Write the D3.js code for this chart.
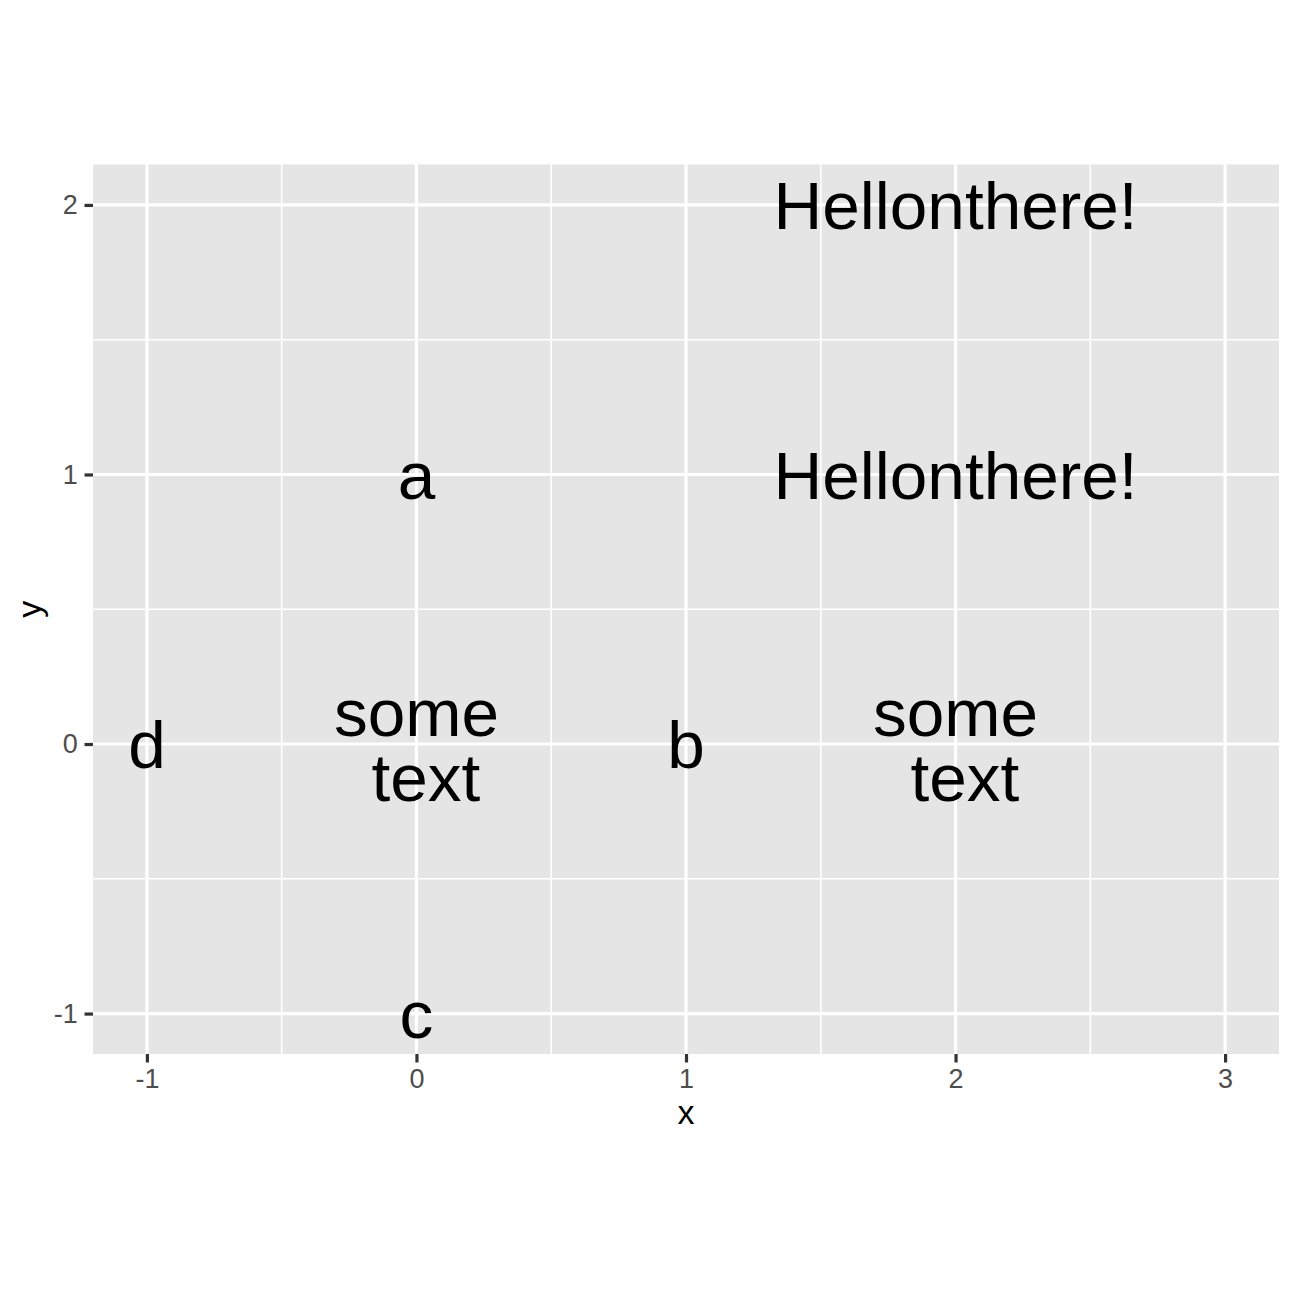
<!DOCTYPE html>
<html><head><meta charset="utf-8">
<script src="https://cdn.jsdelivr.net/npm/d3@7"></script>
<style>body{margin:0;background:#fff}svg{display:block}</style>
</head><body>
<script>
const labelX = [0, 1, 0, -1, 0, 2, 2, 2];
const labelY = [1, 0, -1, 0, 0, 0, 2, 1];
const labelText = ["a", "b", "c", "d", "some\n text", "some\n text", "Hellonthere!", "Hellonthere!"];
const xDomain = [-1.2, 3.2];
const yDomain = [-1.15, 2.15];
const xTicks = [-1, 0, 1, 2, 3];
const yTicks = [-1, 0, 1, 2];
const xMinor = [-0.5, 0.5, 1.5, 2.5];
const yMinor = [-0.5, 0.5, 1.5];

(function () {
const W = 1296, H = 1296;
const pLeft = 93, pWidth = 1186;
const unit = pWidth / (xDomain[1] - xDomain[0]);
const pHeight = unit * (yDomain[1] - yDomain[0]);
const pTop = 164.5;

const svg = d3.select("body").append("svg").attr("width", W).attr("height", H);
const x = d3.scaleLinear().domain(xDomain).range([pLeft, pLeft + pWidth]);
const y = d3.scaleLinear().domain(yDomain).range([pTop + pHeight, pTop]);

svg.append("rect").attr("x", pLeft).attr("y", pTop).attr("width", pWidth).attr("height", pHeight).attr("fill", "#E5E5E5");

const g = svg.append("g");
g.selectAll(".xmin").data(xMinor).join("line").attr("class", "xmin").attr("x1", d => x(d)).attr("x2", d => x(d))
  .attr("y1", pTop).attr("y2", pTop + pHeight).attr("stroke", "#fff").attr("stroke-width", 1.6);
g.selectAll(".ymin").data(yMinor).join("line").attr("class", "ymin").attr("y1", d => y(d)).attr("y2", d => y(d))
  .attr("x1", pLeft).attr("x2", pLeft + pWidth).attr("stroke", "#fff").attr("stroke-width", 1.6);
g.selectAll(".xmaj").data(xTicks).join("line").attr("class", "xmaj").attr("x1", d => x(d)).attr("x2", d => x(d))
  .attr("y1", pTop).attr("y2", pTop + pHeight).attr("stroke", "#fff").attr("stroke-width", 3.2);
g.selectAll(".ymaj").data(yTicks).join("line").attr("class", "ymaj").attr("y1", d => y(d)).attr("y2", d => y(d))
  .attr("x1", pLeft).attr("x2", pLeft + pWidth).attr("stroke", "#fff").attr("stroke-width", 3.2);

const fmt = d => d < 0 ? "-" + Math.abs(d) : String(d);
const xAxis = d3.axisBottom(x).tickValues(xTicks).tickSize(8.5).tickPadding(6.8).tickFormat(fmt);
const yAxis = d3.axisLeft(y).tickValues(yTicks).tickSize(8.5).tickPadding(6.8).tickFormat(fmt);
const styleAxis = sel => {
  sel.select(".domain").remove();
  sel.selectAll(".tick line").attr("stroke", "#333333").attr("stroke-width", 3.2);
  sel.selectAll(".tick text").attr("fill", "#4D4D4D").attr("font-size", 27)
    .attr("font-family", "Liberation Sans, Arial, sans-serif");
};
svg.append("g").attr("transform", `translate(0,${pTop + pHeight})`).call(xAxis).call(styleAxis);
svg.append("g").attr("transform", `translate(${pLeft},0)`).call(yAxis).call(styleAxis);

svg.append("text").attr("x", pLeft + pWidth / 2).attr("y", 1124).attr("text-anchor", "middle")
  .attr("font-size", 34).attr("font-family", "Liberation Sans, Arial, sans-serif").text("x");
svg.append("text").attr("transform", `translate(41,${pTop + pHeight / 2}) rotate(-90)`).attr("text-anchor", "middle")
  .attr("font-size", 34).attr("font-family", "Liberation Sans, Arial, sans-serif").text("y");

const fs = 67.5, capH = 0.716 * fs, lineH = 65;
const data = labelX.map((d, i) => ({x: d, y: labelY[i], t: labelText[i]}));
const lbl = svg.append("g").selectAll("text").data(data).join("text")
  .attr("text-anchor", "middle").attr("font-size", fs).attr("fill", "#000")
  .attr("font-family", "Liberation Sans, Arial, sans-serif")
  .style("white-space", "pre").attr("xml:space", "preserve");
lbl.each(function(d) {
  const lines = d.t.split("\n");
  const total = capH + (lines.length - 1) * lineH;
  const base0 = y(d.y) - total / 2 + capH;
  d3.select(this).selectAll("tspan").data(lines).join("tspan")
    .attr("x", x(d.x)).attr("y", (l, i) => base0 + i * lineH).text(l => l);
});
})();
</script>
</body></html>
